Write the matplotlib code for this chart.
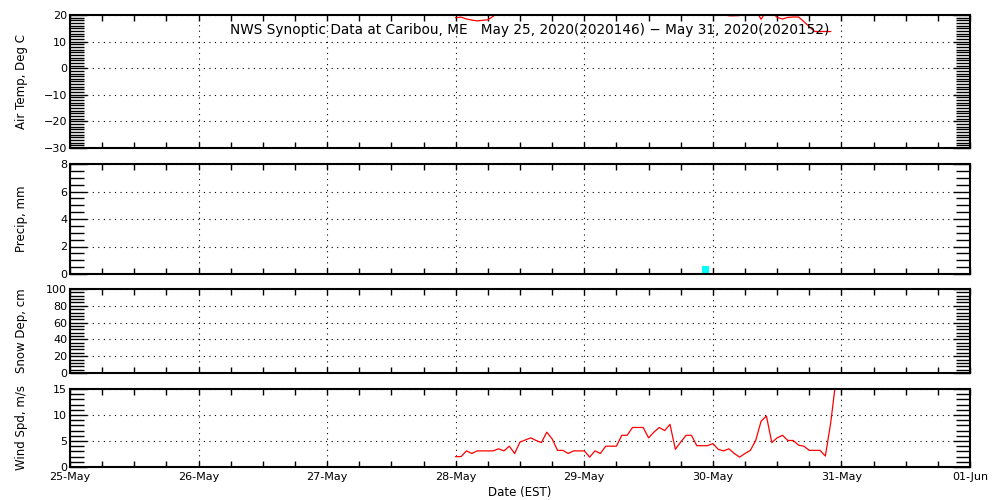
import numpy as np
import matplotlib.pyplot as plt
import matplotlib.dates as mdates
import pandas as pd
from matplotlib.ticker import MultipleLocator

# hourly observations starting 28-May 00:00 EST
t_start = "2020-05-28 00:00"
temp = [19.0, 19.2, 18.5, 18.1, 17.8, 18.0, 18.2, 19.5,
        21.5, 23.0, 24.5, 25.8, 26.9, 27.6, 28.1, 28.3, 27.9, 27.0, 25.6, 24.2, 23.1, 22.4, 21.8, 21.2,
        20.9, 20.6, 20.4, 20.8, 22.0, 23.5, 25.0, 26.3, 27.4, 28.2, 28.8, 29.0, 28.6, 27.8, 26.5, 25.2,
        24.0, 23.1, 22.5, 22.0, 21.6, 21.2, 20.9, 20.6,
        20.5, 20.4, 20.3, 19.7, 19.7, 19.8, 21.0, 21.5, 21.8, 18.4, 21.5, 21.0,
        19.1, 18.5, 19.1, 19.25, 19.25, 17.5, 15.6, 13.8, 13.8, 13.8, 13.8]
wind = [2.0, 2.0, 3.1, 2.6, 3.1, 3.1, 3.1, 3.1, 3.5, 3.1, 4.0, 2.6,
        4.8, 5.2, 5.6, 5.1, 4.7, 6.7, 5.4, 3.2, 3.2, 2.6, 3.1, 3.1,
        3.1, 1.9, 3.1, 2.6, 4.0, 4.0, 4.0, 6.1, 6.1, 7.6, 7.6, 7.6,
        5.6, 6.7, 7.6, 7.0, 8.2, 3.4, 4.8, 6.1, 6.1, 4.1, 4.1, 4.1,
        4.5, 3.4, 3.1, 3.5, 2.6, 1.9, 2.6, 3.2, 5.1, 8.8, 9.8, 4.7,
        5.6, 6.1, 5.1, 5.1, 4.2, 4.0, 3.2, 3.2, 3.2, 2.1, 8.5, 17.0]
precip_time = [pd.Timestamp("2020-05-29 22:00")]
precip = [0.6]
snow_time = []
snow = []

t_temp = pd.date_range(t_start, periods=len(temp), freq="h")
t_wind = pd.date_range(t_start, periods=len(wind), freq="h")

x0 = pd.Timestamp("2020-05-25")
x1 = pd.Timestamp("2020-06-01")

fig = plt.figure(figsize=(10, 5), dpi=100)
W = 0.9
L = 0.07
ax_t = fig.add_axes([L, 0.704, W, 0.266])
ax_p = fig.add_axes([L, 0.452, W, 0.220])
ax_s = fig.add_axes([L, 0.254, W, 0.168])
ax_w = fig.add_axes([L, 0.066, W, 0.156])

dots = (0, (1, 4))

def style(ax, ylo, yhi, major, minor, label):
    ax.set_xlim(x0, x1)
    ax.set_ylim(ylo, yhi)
    ax.yaxis.set_major_locator(MultipleLocator(major))
    ax.yaxis.set_minor_locator(MultipleLocator(minor))
    ax.xaxis.set_major_locator(mdates.DayLocator())
    ax.xaxis.set_minor_locator(mdates.HourLocator(byhour=[0, 6, 12, 18]))
    ax.xaxis.set_major_formatter(mdates.DateFormatter("%d-%b"))
    ax.grid(True, which="major", color="black", linestyle=dots, linewidth=0.8)
    ax.tick_params(axis="y", which="major", direction="in", length=12, width=1,
                   left=True, right=True, labelsize=8, pad=2)
    ax.tick_params(axis="y", which="minor", direction="in", length=10, width=1,
                   left=True, right=True)
    ax.tick_params(axis="x", which="both", direction="in", length=4, width=1,
                   top=True, bottom=True, labelsize=8)
    for s in ax.spines.values():
        s.set_linewidth(1.5)
    ax.set_ylabel(label, fontsize=8.5)
    ax.yaxis.set_label_coords(-0.047, 0.5)

style(ax_t, -30, 20, 10, 1, "Air Temp, Deg C")
style(ax_p, 0, 8, 2, 0.5, "Precip, mm")
style(ax_s, 0, 100, 20, 4, "Snow Dep, cm")
style(ax_w, 0, 15, 5, 1, "Wind Spd, m/s")

ax_t.plot(t_temp, temp, color="red", linewidth=0.9)
ax_p.bar(precip_time, precip, width=pd.Timedelta(minutes=78), align="edge", color="cyan")
ax_s.plot(snow_time, snow, color="red", linewidth=0.9)
ax_w.plot(t_wind, wind, color="red", linewidth=0.9)

for ax in (ax_t, ax_p, ax_s):
    ax.tick_params(axis="x", labelbottom=False)
ax_w.set_xlabel("Date (EST)", fontsize=8.5, labelpad=3)

fig.text(0.53, 0.94, "NWS Synoptic Data at Caribou, ME   May 25, 2020(2020146) \u2212 May 31, 2020(2020152)",
         ha="center", va="center", fontsize=9.8)

fig.savefig("out.png", dpi=100)
